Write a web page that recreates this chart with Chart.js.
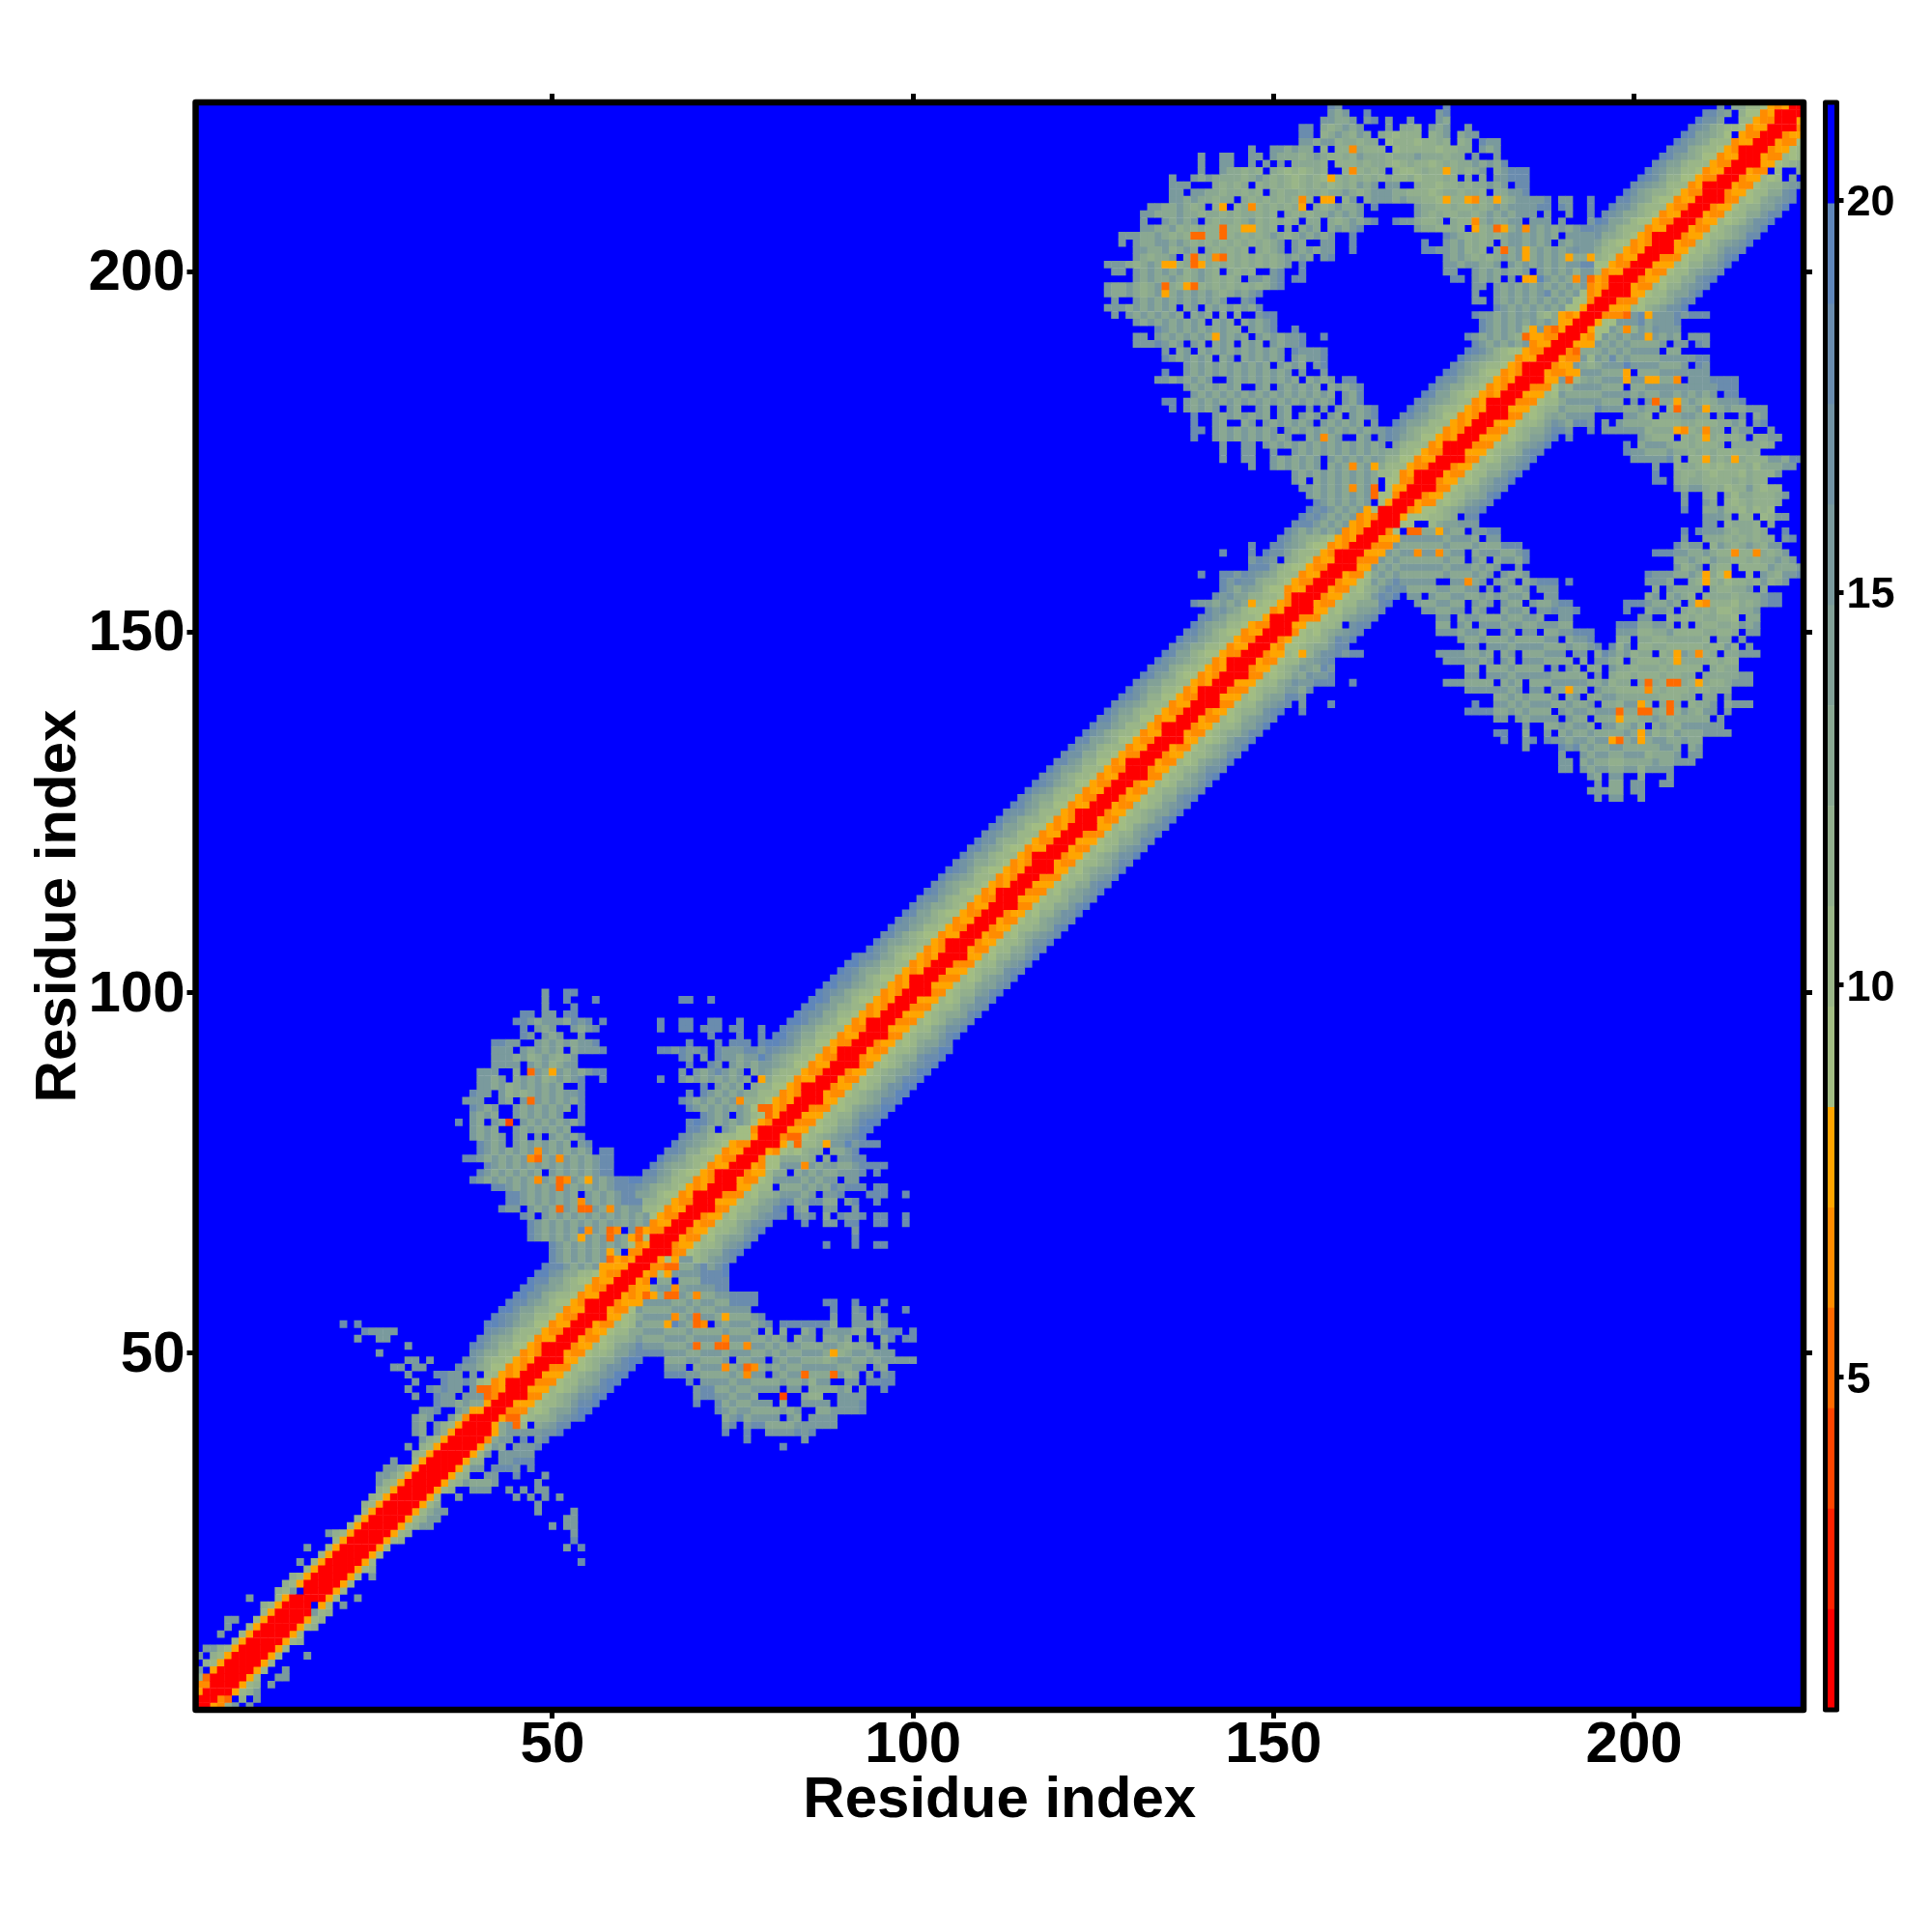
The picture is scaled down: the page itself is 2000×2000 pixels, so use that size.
<!DOCTYPE html>
<html lang="en-us">
<head>
<meta charset="UTF-8">
<title>Residue distance map</title>
<script src="https://cdn.jsdelivr.net/npm/chart.js"></script>
<style>
	body {padding: 0;margin: 0;background: #fff;}
	#wrap {position: relative;width: 2000px;height: 2000px;}
	#mapChart {position: absolute;left: 0;top: 0;}
	#barChart {position: absolute;left: 1860px;top: 0;}
</style>
</head>
<body>
<div id="wrap">
	<canvas id="mapChart" width="2000" height="2000"></canvas>
	<canvas id="barChart" width="140" height="2000"></canvas>
</div>

<script>
var residueCount = 223;
var residueTicks = [50, 100, 150, 200];
var barTicks = [5, 10, 15, 20];
var levelEdges = [0.76, 2.04, 3.32, 4.6, 5.88, 7.16, 8.44, 9.72, 11, 12.28, 13.56, 14.84, 16.12, 17.4, 18.68, 19.96, 21.25];
var levelColors = ['#FF0000', '#FF2200', '#FF4500', '#FF6A00', '#FF8C00', '#FFA500', '#A2BD83', '#9AB688', '#92AF8D', '#8AA892', '#82A197', '#7A9A9D', '#7293A4', '#6A8CAE', '#5F86BA', '#0000FF'];
// one character per cell, in the order of levelColors. '.' leaves a cell alone, '_' forces it blue
var levelSymbols = '123456abcdefghi';
// the lobe rows were read on a coarser scale, these letters land on these levels
var lobeLevels = {d: 8, e: 9, f: 10, g: 12};

// cells along the diagonal: index is the offset from it, blocks of ten residues starting at residue 1
var bandDiagonals = [
"1111111111 1111111111 1111111111 1111111111 1111111111 1111111111 1111111111 1111111111 1111111111 1111111111 1111111111 1111111111 1111111111 1111111111 1111111111 1111111111 1111111111 1111111111 1111111111 1111111111 1111111111 1111111111 111",
"1111111111 1111111111 1111111111 1111111111 1111111111 1111111111 1111111111 1111111111 1111111111 1111111111 1111111111 1111111111 1111111111 1111111111 1111111111 1111111111 1111111111 1111111111 1111111111 1111111111 1111111111 1111111111 11",
"1111111111 1111111111 1111111111 1111111116 6561656516 5656165651 6561565651 6516565615 6565165651 5651656561 6565165656 5165651656 6516565651 5656165651 6561565651 6516565615 6565165651 5651656561 6565165656 5165651656 6516565651 5656165651 6",
"6666666666 6666666666 6666666666 6666666565 6565656565 6565656565 65a5656565 656565a565 6565656565 6565656565 6565656565 6565656565 6565656565 6565656565 6565656565 6565656565 656aaa6565 6565656565 6565656565 6aa5656565 6565656565 6565656565",
"bbbbbbbbbb bbbbbbbbbb bbbbbbbbbb bbbbbbb6a5 6565656565 65656565aa aa65656565 65656aaaa5 6565656565 6565656565 6565656565 6565656565 6565656565 6565656565 6565656aaa a565656565 656aaaa565 6565656565 65656565aa aaa5656565 6565656565 6565656565",
".......... .......... .......... .......baa abaabaabaa baabaabaab aabaabaaba abaabaabaa baabaabaab aabaabaaba abaabaabaa baabaabaab aabaabaaba abaabaabaa baabaabaab aabaabaaba abaabaabaa baabaabaab aabaabaaba abaabaabaa baabaabaab aabaabaaba",
".......... .......... .......... .......bab babbabbabb abbabbabba bbabbabbab babbabbabb abbabbabba bbabbabbab babbabbabb abbabbabba bbabbabbab babbabbabb abbabbabba bbabbabbab babbabbabb abbabbabba bbabbabbab babbabbabb abbabbabba bbabbabbab",
".......... .......... .......... .......cbb cbbcbbcbcb bcbbcbbcbb cbbcbcbbcb bcbbcbbcbc bbcbbcbbcb cbbcbbcbbc bbcbcbbcbb cbbcbbcbcb bcbbcbbcbb cbbcbcbbcb bcbbcbbcbc bbcbbcbbcb cbbcbbcbbc bbcbcbbcbb cbbcbbcbcb bcbbcbbcbb cbbcbcbbcb bcbbcbbcbc",
".......... .......... .......... .......dcd cdcdcddcdc dcdcdcdcdd cdcdcdcdcd dcdcddcdcd cdcdcdcddc dcdcdcdcdc ddcdcdcdcd cdcddcdcdc dcdcdcdcdd cdcdcdcdcd dcdcddcdcd cdcdcdcddc dcdcdcdcdc ddcdcdcdcd cdcddcdcdc dcdcdcdcdd cdcdcdcdcd dcdcddcdcd",
".......... .......... .......... .......efe dedeedeede edeedeedee deedeedede eedeedeede edeedeedee deedeedede eedeedeede edeedeedee deedeedede eedeedeede edeedeedee deedeedede eedeedeede edeedeedee deedeedede eedeedeede edeedeedee deedeedede",
".......... .......... .......... .......fgf fefgfefgfe fgfefgfefg fefgfefgfe gfefgfefgf efgfefgfef gfefgfefgf efgfefgfef gfefgfefgf efgfefgfef gfefgfefgf efgfefgfef gfefgfefgf efgfefgfef gfefgfefgf efgfefgfef gfefgfefgf efgfefgfef gfefgfefgf",
".......... .......... .......... .......hgh gghgghgghg ghgghgghgg hgghgghggh gghgghgghg ghgghgghgg hgghgghggh gghgghgghg ghgghgghgg hgghgghggh gghgghgghg ghgghgghgg hgghgghggh gghgghgghg ghgghgghgg hgghgghggh gghgghgghg ghgghgghgg hgghgghggh",
".......... .......... .......... ........ih hihihiihih iihihiihih hihiihihii hihiihihih iihihiihih hihiihihii hihiihihih iihihiihih hihiihihii hihiihihih iihihiihih hihiihihii hihiihihih iihihiihih hihiihihii hihiihihih iihihiihih hihiihihii",
".......... .......... .......... .......... iiiiiiiiii iiiiiiiiii i......... ....iiiiii iiiiiiiiii ii........"
];

// [residue y, first residue x, cells]
var topLobeRows = [
[223,155,"...hg..... .........h"],
[222,155,"...gfg..h. ........gh"],
[221,155,"..ggffg.gh .g..g...gf"],
[220,145,".........h h.fefgfg.. .g.ffe.gfg ..g......."],
[219,145,".........h h.efgfegf. fedeee.efg .fgg......"],
[218,145,".........g gfggeffeff .deeedeefe .ef.hgg..."],
[217,145,"..g..ggfgf f.e.ee5fee e.deeeeede eff.gfg..."],
[216,135,".....g..gg ..gg.gfffe fgfeefegff fefffgfffe ff.g..g..."],
[215,135,".....g..gg ..g.g.g.ff ffe.eeefef fedefeedef effgfgfh.."],
[214,135,".....g..gf fefe.feded efe..e5efe f.eddefee6 efefg.fghh h........."],
[213,135,".g..gfgfff fefgfefede fed6efefef efeefdeeef e.f.f.gghh h"],
[212,135,".ggg...fef ef.efefede fefdefegfg .gg..feede efeffgfg.h h"],
[211,135,".gg.ggffef fefe.feffe ffeffgfefg ggffeeedef feffe.ffgg h"],
[210,135,".ggfgffeff .fefefefe5 e.66.eg.fg ggfgffeed6 ee65ef6efg gggh.gg..h"],
[209,125,"........gg ffgfef.e6. ef5efefef6 .fefgffg.h .....gffee feefefgfgg gghh.hg..h"],
[208,125,".......ggf ffgffeffef effefe.fef effgfgfg.. .....gfefe effefgfgfg gg.g..g..h"],
[207,125,".......g.. gfgfg.feff efgefefef. ff.fefgfgh ..hggfeef. fee5fgffgg .ggg.g...g"],
[206,125,".......ggf fgefefee4e e66efe.f.f gf.fgfgh.. .....gffee fe.6ef46fg 5gfgfgfghh"],
[205,125,"....gggffg fefe44ee4e fefefgfefg fgfg..h... .........h gfefefefgg fgfgf.gggg"],
[204,125,"....g.gffg gfgfefefef efefefg.gf ..gg..h... ......h..g fgefef.fgg fgfg.gfggg"],
[203,125,"......ggff gefgf.fefe fe.fefg.gf gfgg..h... ......hhgg fgefe.f4fg 6fgfgfg.gg"],
[202,125,"......gfef fg.f4ef54e fefefefgfg f.gh...... .........g fgfefefgfg 6fgfgf6ff6"],
[201,125,"..gggfefgf 66ef46fefe fefefefg.h .......... .........g gfggffg.gf gfgfgfgghh"],
[200,125,"...gg.gfgf gfgefgfe.f efe..gh..h .......... .........g g..gfgfgff g.gfgfg.gg"],
[199,125,"......gfgf fgfefgfefe f.ggfgh.hh .......... .......... hh.gfgf.g. 66.gfgf5g4"],
[198,125,"..gffgfefg 4fe64efefe fefefgh... .......... .......... ...gg.gfgf gfgfgfgfg"],
[197,125,"..gffgfefg 6fgfgfgfef gfgh...... .......... .......... ...g..gfgf gfghfgfg"],
[196,125,"...g..gfgf gfgfgfgfg. .gh....... .......... .......... ...gg.gfgf gfgfgfg"],
[195,125,"..gggfgfgf gf.fg.fgfg fgfh...... .......... .......... ......hgfg fgfgfg"],
[194,125,"...g.gfgfg fgf.fgf.f. f..ghh.... .......... .......... ...hggfgfg .g..f656"],
[193,125,"......gfgf gfgfgf.fgf .fgfgh.... .......... .......... ....hgfgfg fgfgf66"],
[192,125,".........h gfgfgfgfgf f.gfgh..h. .......... .......... ....hgfgfg .6g54"],
[191,125,"......gg.g fgfgfgf6gf gf.gfgfggh ..h....... .......... ..hgfgfgf. 4665"],
[190,125,"......gggh gfg.gf.fgf .fgf.gfggh .......... .......... ...hgfgfgf g"],
[189,135,"g.fg.fgfgf gfgfgfg.hg ggh......."],
[188,135,"hgfgfgf.fg .fgfgfg.gf ggh......."],
[187,135,"...gfgfgfg fgfgf.gfgf .gh......."],
[186,135,"h..gfgfgfg fgfgfgfg.g ..g......."],
[185,125,".........g gfgfgfg..g fgfgfgfgf. fgfg.hh..."],
[184,135,"...gfgfgfg f..gf.gfgf gf.fgfgh.."],
[183,135,"....gfgfgf gfgfgfgfgf gfgf.gfh.."],
[182,135,"hh.gfgfgfg fgfgfgfgfg fgfg.gfh.."],
[181,135,".h.gfgfg.g f..gf.gf.. g.g.gfgfgh"],
[180,135,"....h..gfg fgfgf.gf.g fg.gf.gfgh"],
[179,135,"....h..gf. .fg.gfgfgf g.gfgfgf.g"],
[178,135,"....hh.gfg fgfgfg.gfg fgfgfgfgfg g"],
[177,135,"....h..gfg fgfgfgfg.. fg5fg..fg. g"],
[176,135,"........g. .gg.gfgfgf gfgfgfgfgf g_"],
[175,135,"........g. .gg..g..gf gfgfgfgfgf"],
[174,135,"........g. .gg..gfgfg fg.gfgfgfg"],
[173,145,"..g..gfgfg fg.fgf5fg6"],
[172,145,"........gf gfgfgfgfgf"],
[171,145,"........gf .fgfgfgfgf _"],
[170,145,".........g gfgfgf5fg4 _"],
[169,155,"gfgfgfgfg4"],
[168,155,"..gfgfgfg_"],
[167,155,"..hgfgfg"],
[166,155,".hgfgfg"],
[165,155,"hgfgfg"],
[164,152,"hgfgfgfg"],
[162,147,"h"],
[161,143,"h...h"],
[160,147,"gh.._"],
[159,147,"hhh"],
[158,140,"h..hhgh"],
[157,143,"hgh"],
[156,143,"hgf"],
[155,142,"hg"],
[154,139,"hggfgfgf6"],
[153,141,"hg"],
[152,141,"h"],
[223,211,"_._"],
[222,214,"_"],
[221,213,"__"],
[219,214,"_"]
];

var smallLobeRows = [
[100,49,"g..hh"],
[99,49,"g..h...h"],
[99,68,"hh..h"],
[98,49,"g...h"],
[97,46,"hh.gg.hh"],
[96,45,"hhgfgggfhgh.h"],
[96,65,"h..hh..hh..h"],
[95,46,"h.gfg..gfgh"],
[95,65,"h..hh.hhh.hh..h"],
[94,46,"hg.gfg..g"],
[94,72,"h...h..h"],
[93,42,"hhgg..gfgfgfggh"],
[93,69,"h...h.hhh.h"],
[92,42,"ggg.gfgfgf.fgggh"],
[92,65,"hhghggh.hggghhg"],
[91,42,"gggfgefgfefg"],
[91,68,"hg.g.hggfgg"],
[90,42,"gggg.gfgefgg"],
[90,69,"h..hg.gfgfg"],
[89,40,"ggg..f.4gf6gfgfghh"],
[89,68,"g.gfghgfg_fg"],
[88,40,"ggfg.fgfgefgfgh..h"],
[88,65,"h..gfgfgfgfgf_6"],
[87,40,"ggfgefgfgfgf..h"],
[87,71,"h.gfgf_f"],
[86,39,"hgg.gefefgfgfggh"],
[86,69,"h.hgfgfgf"],
[85,38,"ggg..gf.g4gfgfgfh"],
[85,68,"hgfgfgfg5"],
[84,39,"hgfg..gfgfgfgf.h"],
[84,69,"hgfgfgfgf"],
[84,79,"44"],
[83,39,"gfgf..gfgfgfg..h"],
[83,71,"hgfg_gf"],
[83,80,"4"],
[82,37,"h.gf.gf3.gfgfgfgfh"],
[82,69,"h.hgfgfgf"],
[81,39,"gfgf..gfgfgfgf"],
[81,69,"hhgf_gf"],
[80,39,"gfgfg.gf.g.gfgfh"],
[79,40,"hgfg.gfgfgfgf.gh"],
[78,40,"hgfgfgfg5gfgfgfg.hh"],
[77,38,"hhgfgfgfg54fg5gfgfghh"],
[76,41,"hgfgfgfgfgfgfgfghh"],
[75,40,"hgfgfgfgf.gfgfgfghh"],
[74,39,"hgfgfgfgf5gf45gf6gfghh"],
[73,42,"hhgfgfgfg4gfgfgfghhh"],
[72,44,"hhgfgfgfgf.gfgfghh"],
[71,44,"hhgfgfgfgf5gfgfghhh"],
[70,43,"hgg.gfgf4gf44gf5gfgg"],
[69,46,"hg.gfgfgfgfgfgfgfg"],
[68,47,"hgfgfgfgfgfg.fgfg"],
[67,47,"hgfgfgf.5gf45_g4"],
[66,47,"hgfgfgf6gfg4gf64"],
[65,50,"hgfgfgfgfgf"],
[64,50,"hgfgfgfg6f_5"],
[63,50,"hgfgfgfg46"],
[62,51,"hgfgfg6666"]
];

var lowBandRows = [
[54,21,"h.h"],
[53,24,"hgggg"],
[52,23,"g..gg"],
[51,30,"g"],
[50,26,"g"],
[49,30,"gg.g"],
[48,28,"gg.gg....h"],
[47,30,"g...hhgg_g_"],
[46,31,"g...hgghg"],
[45,30,"g..hghgg_g44"],
[44,31,"g..hgg_ggg45"],
[43,34,"hggfgff"],
[42,32,"ggh__gf"],
[41,31,"gfg__g"],
[40,31,"gf.gc"],
[39,31,"gf.gc"],
[38,32,"gc"],
[37,30,"g.c"],
[36,31,"c"],
[35,28,"g"],
[34,27,"ggf"],
[33,26,"ggf"],
[32,26,"gc"],
[31,26,"c"],
[30,25,"c"],
[29,24,"c"],
[25,19,"gc"],
[23,16,"g"],
[21,15,"g"],
[19,14,"c"],
[18,13,"c"],
[17,12,"c.g_"],
[16,8,"g"],
[15,10,"c"],
[13,5,"gg"],
[12,5,"g"],
[11,4,"g"],
[9,2,"ggc"],
[8,1,"g.c"],
[7,2,"c"],
[6,1,"g_"],
[5,1,"c4"],
[4,1,"55"],
[3,1,"6"]
];

// grid of levels, symmetric about the diagonal, blue (level 16) where nothing was read
var grid = [];
for (var i = 0; i <= residueCount; i++) {
	grid.push(new Array(residueCount + 1).fill(16));
}

function putLevel(x, y, level) {
	if (x < 1 || y < 1 || x > residueCount || y > residueCount) return;
	grid[x][y] = level;
	grid[y][x] = level;
}

function symbolLevel(ch) {
	return ch === '_' ? 16 : levelSymbols.indexOf(ch) + 1;
}

bandDiagonals.forEach(function(text, offset) {
	text.replace(/ /g, '').split('').forEach(function(ch, n) {
		if (ch !== '.') putLevel(n + 1, n + 1 + offset, symbolLevel(ch));
	});
});

topLobeRows.concat(smallLobeRows, lowBandRows).forEach(function(row) {
	row[2].replace(/ /g, '').split('').forEach(function(ch, n) {
		if (ch !== '.') putLevel(row[1] + n, row[0], lobeLevels[ch] || symbolLevel(ch));
	});
});

// one dataset per colour level, first dataset is painted last. blue is oversized so no seams show
var cellDatasets = levelColors.map(function(color, n) {
	var radius = n === 15 ? 6.5 : 5.6;
	return {
		data: [],
		pointStyle: 'rect',
		pointRadius: radius,
		pointBorderWidth: 0,
		backgroundColor: color,
		borderColor: color
	};
});
for (var x = 1; x <= residueCount; x++) {
	for (var y = 1; y <= residueCount; y++) {
		cellDatasets[grid[x][y] - 1].data.push({x: x, y: y});
	}
}

var fontName = '"Liberation Sans", Arial, sans-serif';

function setTicks(values) {
	return function(axis) {
		axis.ticks = values.map(function(v) { return {value: v}; });
	};
}

function boxPlugin(lineWidth) {
	return {
		id: 'boxFrame',
		afterDraw: function(chart) {
			var a = chart.chartArea, ctx = chart.ctx;
			ctx.save();
			ctx.strokeStyle = '#000';
			ctx.lineWidth = lineWidth;
			ctx.lineJoin = 'round';
			ctx.strokeRect(a.left, a.top, a.right - a.left, a.bottom - a.top);
			ctx.restore();
		}
	};
}

function residueAxis(position, size, labelled, tickPadding, labelOffset, titlePadding) {
	var horizontal = position === 'bottom' || position === 'top';
	return {
		type: 'linear',
		position: position,
		min: 0.5,
		max: residueCount + 0.5,
		afterBuildTicks: setTicks(residueTicks),
		afterFit: function(axis) {
			if (horizontal) axis.height = size; else axis.width = size;
		},
		grid: {drawOnChartArea: false, drawTicks: true, tickLength: 9, tickWidth: 5, tickColor: '#000', z: 1},
		border: {display: false},
		ticks: {
			display: labelled,
			padding: tickPadding,
			labelOffset: labelOffset,
			maxRotation: 0,
			color: '#000',
			font: {family: fontName, size: 60, weight: 'bold'},
			callback: function(v) { return v; }
		},
		title: {
			display: labelled,
			text: 'Residue index',
			color: '#000',
			font: {family: fontName, size: 60, weight: 'bold'},
			padding: titlePadding
		}
	};
}

new Chart(document.getElementById('mapChart').getContext('2d'), {
	type: 'scatter',
	data: {datasets: cellDatasets},
	plugins: [boxPlugin(6.5)],
	options: {
		responsive: false,
		animation: false,
		events: [],
		layout: {padding: 0},
		plugins: {legend: {display: false}, tooltip: {enabled: false}},
		scales: {
			x: residueAxis('bottom', 230, true, -8, 0, {top: 0, bottom: 100}),
			y: residueAxis('left', 202.5, true, 2, 2.5, {top: 25, bottom: 0}),
			xTop: residueAxis('top', 106, false, 0, 0, 0),
			yRight: residueAxis('right', 133, false, 0, 0, 0)
		}
	}
});

// colour key, one floating bar per level
var keyDatasets = levelColors.map(function(color, n) {
	return {
		data: [[levelEdges[n], levelEdges[n + 1]]],
		backgroundColor: color,
		borderWidth: 0,
		barPercentage: 1,
		categoryPercentage: 1
	};
});

new Chart(document.getElementById('barChart').getContext('2d'), {
	type: 'bar',
	data: {labels: [''], datasets: keyDatasets},
	plugins: [boxPlugin(5)],
	options: {
		responsive: false,
		animation: false,
		events: [],
		grouped: false,
		layout: {padding: {left: 29.5, top: 106, bottom: 230}},
		plugins: {legend: {display: false}, tooltip: {enabled: false}},
		scales: {
			x: {display: false},
			y: {
				position: 'right',
				min: levelEdges[0],
				max: levelEdges[levelEdges.length - 1],
				afterBuildTicks: setTicks(barTicks),
				afterFit: function(axis) { axis.width = 98.5; },
				grid: {drawOnChartArea: false, drawTicks: true, tickLength: 7, tickWidth: 5, tickColor: '#000', z: 1},
				border: {display: false},
				ticks: {
					padding: 3,
					labelOffset: 3.5,
					color: '#000',
					font: {family: fontName, size: 45, weight: 'bold'},
					callback: function(v) { return v; }
				}
			}
		}
	}
});
</script>
</body>
</html>
